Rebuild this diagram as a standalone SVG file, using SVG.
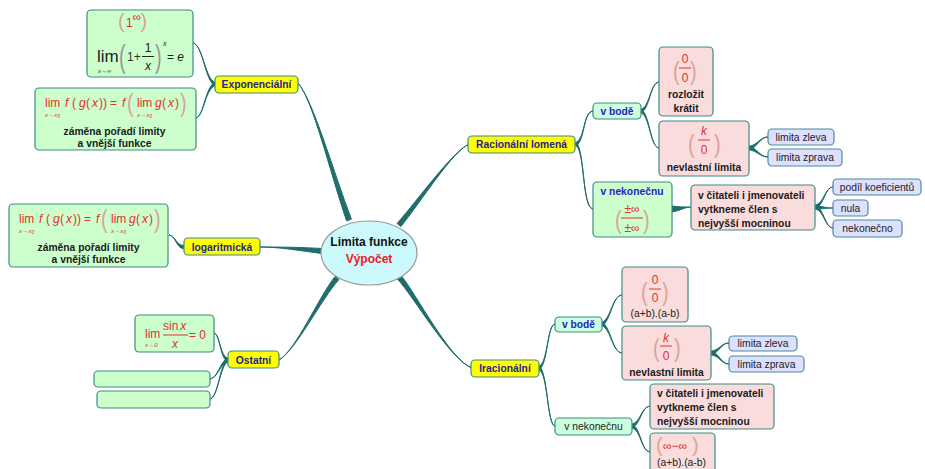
<svg xmlns="http://www.w3.org/2000/svg" width="925" height="469" viewBox="0 0 925 469">
<style>
text{font-family:"Liberation Sans",Arial,sans-serif}
.cn{fill:#1f6e6c;stroke:#1f6e6c;stroke-width:1;stroke-linejoin:round}
.y{fill:#ffff00;stroke:#3c8c86;stroke-width:1.2}
.g{fill:#ccffcc;stroke:#3c8c86;stroke-width:1.2}
.gb{fill:#ccffdd;stroke:#3c8c86;stroke-width:1.2}
.p{fill:#fadcdc;stroke:#3c8c86;stroke-width:1.2}
.l{fill:#dde0ff;stroke:#4a8c98;stroke-width:1.2}
.t{font-size:10.3px;font-weight:bold;fill:#24248c;text-anchor:middle}
.tb{font-size:10.3px;font-weight:bold;fill:#2424c8;text-anchor:middle}
.b{font-size:10.3px;font-weight:bold;fill:#1a1a1a}
.bc{font-size:10.3px;font-weight:bold;fill:#1a1a1a;text-anchor:middle}
.n{font-size:10.3px;fill:#222;text-anchor:middle}
.ns{font-size:10.3px;fill:#222}
.r{fill:#e03030;font-size:12px}
.sub{fill:#e03030;font-size:6.2px;font-style:italic}
.i{font-style:italic}
.pp{fill:#d9a49a;font-size:20px}
.fl{stroke:#e03030;stroke-width:1}
</style>
<rect width="925" height="469" fill="#ffffff"/>

<g id="connectors">
<path class="cn" d="M351.4,219.1 C332.6,169.4 313,100 298,83 C313,100 329.4,170.6 346.6,220.9 Z"/>
<path class="cn" d="M400.9,226.6 C421.4,201.1 452,152 469,144 C452,152 418.7,198.9 397.1,223.4 Z"/>
<path class="cn" d="M322,253.5 C300,250.8 280,247 260,247 C280,247 300,247.2 322,248.5 Z"/>
<path class="cn" d="M338.9,279.6 C321.3,299.1 296,350 279,360 C296,350 318.7,296.9 335.1,276.4 Z"/>
<path class="cn" d="M397.1,278.7 C413.7,296.2 450,360 472,368 C450,360 416.3,293.9 400.9,275.3 Z"/>
<path class="cn" d="M215,82.3 C205,78.8 203,45 193,43 C203,45 205,81.2 215,85.8 Z"/>
<path class="cn" d="M215,82.3 C205,86.8 204,116 196,118 C204,116 205,89.2 215,85.8 Z"/>
<path class="cn" d="M184,245.3 C176,245.8 176,236 169,235 C176,236 176,248.2 184,248.8 Z"/>
<path class="cn" d="M228,358.3 C220,356.8 220,334 214,333 C220,334 220,359.2 228,361.8 Z"/>
<path class="cn" d="M228,358.3 C220,360.8 218,378 210,379 C218,378 220,363.2 228,361.8 Z"/>
<path class="cn" d="M228,358.3 C220,362.8 218,398 210,399 C218,398 220,365.2 228,361.8 Z"/>
<path class="cn" d="M576,142.3 C585,138.8 583,112 593,111 C583,112 585,141.2 576,145.8 Z"/>
<path class="cn" d="M576,142.3 C585,148.8 582,208 593,209 C582,208 585,151.2 576,145.8 Z"/>
<path class="cn" d="M641,109.3 C650,106.8 650,83 659,82 C650,83 650,109.2 641,112.8 Z"/>
<path class="cn" d="M641,109.3 C650,113.8 650,147 659,148 C650,147 650,116.2 641,112.8 Z"/>
<path class="cn" d="M672,206 C680,207 684,207 691,207 C684,207 680,211 672,212 Z"/>
<path class="cn" d="M749,146.3 C758,144.8 760,137 768,137 C760,137 758,147.2 749,149.8 Z"/>
<path class="cn" d="M749,146.3 C758,148.8 760,157 768,157 C760,157 758,151.2 749,149.8 Z"/>
<path class="cn" d="M815,205.3 C824,203.8 825,187 833,187 C825,187 824,206.2 815,208.8 Z"/>
<path class="cn" d="M815,205.3 C824,206.8 826,208 833,208 C826,208 824,209.2 815,208.8 Z"/>
<path class="cn" d="M815,205.3 C824,207.8 825,228 833,228 C825,228 824,210.2 815,208.8 Z"/>
<path class="cn" d="M539,366.3 C548,362.8 547,325 555,324 C547,325 548,365.2 539,369.8 Z"/>
<path class="cn" d="M539,366.3 C548,370.8 547,425 555,426 C547,425 548,373.2 539,369.8 Z"/>
<path class="cn" d="M602,322.3 C611,318.8 612,296 622,295 C612,296 611,321.2 602,325.8 Z"/>
<path class="cn" d="M602,322.3 C611,326.8 612,352 622,353 C612,352 611,329.2 602,325.8 Z"/>
<path class="cn" d="M711,351.3 C720,349.8 721,343 729,343 C721,343 720,352.2 711,354.8 Z"/>
<path class="cn" d="M711,351.3 C720,353.8 721,364 729,364 C721,364 720,356.2 711,354.8 Z"/>
<path class="cn" d="M632,424.3 C641,421.8 641,407 650,406 C641,407 641,424.2 632,427.8 Z"/>
<path class="cn" d="M632,424.3 C641,427.8 641,451 650,452 C641,451 641,430.2 632,427.8 Z"/>
</g>

<g id="center">
<ellipse cx="369" cy="253" rx="48" ry="32" fill="#ccf9fc" stroke="#9a9a9a" stroke-width="1.2"/>
<text x="369" y="246" font-size="12" font-weight="bold" fill="#111" text-anchor="middle">Limita funkce</text>
<text x="369" y="263" font-size="12" font-weight="bold" fill="#e8202a" text-anchor="middle">Výpočet</text>
</g>

<g id="exponencialni">
<rect class="y" x="215" y="76" width="83" height="17" rx="4"/>
<text class="t" x="256.5" y="88">Exponenciální</text>
</g>

<g id="exp-formula1">
<rect class="g" x="87" y="10" width="106" height="67" rx="4"/>
<text class="pp" x="118" y="28" font-size="19">(</text>
<text class="r" x="126" y="27">1</text>
<text class="r" x="132.5" y="21" font-size="7.5">∞</text>
<text class="pp" x="140.5" y="28" font-size="19">)</text>
<text x="97" y="62" font-size="17" fill="#222">lim</text>
<text x="98" y="73" font-size="6" fill="#222" class="i">x→∞</text>
<text class="pp" transform="translate(119,67) scale(1,1.55)" style="fill:#9a9a9a">(</text>
<text x="127" y="61" font-size="12" fill="#333">1+</text>
<text x="148" y="52" font-size="12" fill="#222" text-anchor="middle">1</text>
<line x1="142" y1="56.5" x2="154" y2="56.5" stroke="#222" stroke-width="1"/>
<text x="148" y="70" font-size="12" fill="#222" text-anchor="middle" class="i">x</text>
<text class="pp" transform="translate(155,67) scale(1,1.55)" style="fill:#9a9a9a">)</text>
<text x="163" y="46" font-size="7" fill="#222" class="i">x</text>
<text x="167" y="61" font-size="12" fill="#222">= <tspan class="i">e</tspan></text>
</g>

<g id="exp-formula2">
<rect class="g" x="35" y="88" width="161" height="62" rx="4"/>
<g transform="translate(26,-116)">
<text class="r" x="19" y="223">lim</text>
<text class="sub" x="19" y="233">x→x<tspan font-size="4.5" dy="1">0</tspan></text>
<text class="r" y="223" font-size="13"><tspan class="i" x="39">f</tspan><tspan x="46">(</tspan><tspan class="i" x="53">g</tspan><tspan x="60">(</tspan><tspan class="i" x="66">x</tspan><tspan x="73">)</tspan><tspan x="77">)</tspan><tspan x="84">=</tspan><tspan class="i" x="96">f</tspan></text>
<text class="pp" transform="translate(101,228) scale(1,1.25)">(</text>
<text class="r" x="111" y="223">lim</text>
<text class="sub" x="111" y="233">x→x<tspan font-size="4.5" dy="1">0</tspan></text>
<text class="r" y="223" font-size="13"><tspan class="i" x="129">g</tspan><tspan x="136">(</tspan><tspan class="i" x="142">x</tspan><tspan x="149">)</tspan></text>
<text class="pp" transform="translate(154,228) scale(1,1.25)">)</text>
<text class="bc" x="88.5" y="251">záměna pořadí limity</text>
<text class="bc" x="88.5" y="263">a vnější funkce</text>
</g>
</g>

<g id="logaritmicka">
<rect class="y" x="184" y="238" width="76" height="17" rx="4"/>
<text class="t" x="222" y="251">logaritmická</text>
</g>

<g id="log-formula">
<rect class="g" x="9" y="204" width="159" height="63" rx="4"/>
<text class="r" x="19" y="223">lim</text>
<text class="sub" x="19" y="233">x→x<tspan font-size="4.5" dy="1">0</tspan></text>
<text class="r" y="223" font-size="13"><tspan class="i" x="39">f</tspan><tspan x="46">(</tspan><tspan class="i" x="53">g</tspan><tspan x="60">(</tspan><tspan class="i" x="66">x</tspan><tspan x="73">)</tspan><tspan x="77">)</tspan><tspan x="84">=</tspan><tspan class="i" x="96">f</tspan></text>
<text class="pp" transform="translate(101,228) scale(1,1.25)">(</text>
<text class="r" x="111" y="223">lim</text>
<text class="sub" x="111" y="233">x→x<tspan font-size="4.5" dy="1">0</tspan></text>
<text class="r" y="223" font-size="13"><tspan class="i" x="129">g</tspan><tspan x="136">(</tspan><tspan class="i" x="142">x</tspan><tspan x="149">)</tspan></text>
<text class="pp" transform="translate(154,228) scale(1,1.25)">)</text>
<text class="bc" x="88.5" y="251">záměna pořadí limity</text>
<text class="bc" x="88.5" y="263">a vnější funkce</text>
</g>

<g id="ostatni">
<rect class="y" x="228" y="351" width="51" height="17" rx="4"/>
<text class="t" x="253.5" y="364">Ostatní</text>
</g>

<g id="ost-formula">
<rect class="g" x="135" y="315" width="79" height="37" rx="4"/>
<text class="r" x="145" y="338">lim</text>
<text class="sub" x="145" y="347">x→0</text>
<text class="r" x="163" y="330">sin<tspan class="i" dx="2">x</tspan></text>
<line class="fl" x1="163" y1="335" x2="188" y2="335"/>
<text class="r i" x="175" y="348" text-anchor="middle">x</text>
<text class="r" x="189" y="339">= 0</text>
</g>
<g id="ost-empty1"><rect class="g" x="94" y="371" width="116" height="16" rx="4"/></g>
<g id="ost-empty2"><rect class="g" x="97" y="391" width="113" height="17" rx="4"/></g>

<g id="racionalni">
<rect class="y" x="468" y="136" width="107" height="17" rx="4"/>
<text class="t" x="521.5" y="148">Racionální lomená</text>
</g>

<g id="rac-vbode">
<rect class="gb" x="593" y="103" width="48" height="16" rx="4"/>
<text class="tb" x="617" y="115">v bodě</text>
</g>

<g id="rac-00">
<rect class="p" x="659" y="47" width="54" height="69" rx="4"/>
<text class="pp" transform="translate(673,80) scale(1,1.3)">(</text>
<text class="r" x="685" y="63" text-anchor="middle">0</text>
<line class="fl" x1="679" y1="68" x2="691" y2="68"/>
<text class="r" x="685" y="82" text-anchor="middle">0</text>
<text class="pp" transform="translate(690,80) scale(1,1.3)">)</text>
<text class="bc" x="686" y="98">rozložit</text>
<text class="bc" x="686" y="112">krátit</text>
</g>

<g id="rac-k0">
<rect class="p" x="659" y="121" width="90" height="55" rx="4"/>
<text class="pp" transform="translate(688,153) scale(1,1.3)">(</text>
<text class="r i" x="704" y="135" text-anchor="middle">k</text>
<line class="fl" x1="698" y1="140" x2="710" y2="140"/>
<text class="r" x="704" y="154" text-anchor="middle">0</text>
<text class="pp" transform="translate(714,153) scale(1,1.3)">)</text>
<text class="bc" x="704" y="171">nevlastní limita</text>
</g>

<g id="rac-zleva">
<rect class="l" x="768" y="129" width="66" height="16" rx="4"/>
<text class="n" x="801" y="141">limita zleva</text>
</g>
<g id="rac-zprava">
<rect class="l" x="768" y="149" width="74" height="17" rx="4"/>
<text class="n" x="805" y="161">limita zprava</text>
</g>

<g id="rac-vnek">
<rect class="g" x="593" y="182" width="79" height="55" rx="4"/>
<text class="tb" x="632" y="195">v nekonečnu</text>
<text class="pp" transform="translate(615,229) scale(1,1.3)">(</text>
<text class="r" x="632" y="213" font-size="11" text-anchor="middle">±∞</text>
<line class="fl" x1="621" y1="218" x2="643" y2="218"/>
<text class="r" x="632" y="232" font-size="11" text-anchor="middle">±∞</text>
<text class="pp" transform="translate(643,229) scale(1,1.3)">)</text>
</g>

<g id="rac-vcitateli">
<rect class="p" x="691" y="185" width="124" height="45" rx="4"/>
<text class="b" x="698" y="199">v čitateli i jmenovateli</text>
<text class="b" x="698" y="213">vytkneme člen s</text>
<text class="b" x="698" y="227">nejvyšší mocninou</text>
</g>

<g id="rac-podil">
<rect class="l" x="833" y="179" width="88" height="16" rx="4"/>
<text class="n" x="877" y="191">podíl koeficientů</text>
</g>
<g id="rac-nula">
<rect class="l" x="833" y="200" width="35" height="16" rx="4"/>
<text class="n" x="850.5" y="212">nula</text>
</g>
<g id="rac-nekonecno">
<rect class="l" x="833" y="220" width="69" height="17" rx="4"/>
<text class="n" x="867.5" y="232">nekonečno</text>
</g>

<g id="iracionalni">
<rect class="y" x="471" y="360" width="68" height="17" rx="4"/>
<text class="t" x="505" y="372">Iracionální</text>
</g>

<g id="ira-vbode">
<rect class="gb" x="555" y="317" width="47" height="15" rx="4"/>
<text class="tb" x="578.5" y="328">v bodě</text>
</g>

<g id="ira-00">
<rect class="p" x="622" y="267" width="66" height="55" rx="4"/>
<text class="pp" transform="translate(641,301) scale(1,1.3)">(</text>
<text class="r" x="655" y="284" text-anchor="middle">0</text>
<line class="fl" x1="649" y1="289" x2="661" y2="289"/>
<text class="r" x="655" y="302" text-anchor="middle">0</text>
<text class="pp" transform="translate(662,301) scale(1,1.3)">)</text>
<text class="n" x="655" y="317">(a+b).(a-b)</text>
</g>

<g id="ira-k0">
<rect class="p" x="622" y="326" width="89" height="54" rx="4"/>
<text class="pp" transform="translate(653,357) scale(1,1.3)">(</text>
<text class="r i" x="666" y="342" text-anchor="middle">k</text>
<line class="fl" x1="660" y1="346" x2="672" y2="346"/>
<text class="r" x="666" y="360" text-anchor="middle">0</text>
<text class="pp" transform="translate(674,357) scale(1,1.3)">)</text>
<text class="bc" x="666.5" y="376">nevlastní limita</text>
</g>

<g id="ira-zleva">
<rect class="l" x="729" y="336" width="68" height="15" rx="4"/>
<text class="n" x="763" y="347">limita zleva</text>
</g>
<g id="ira-zprava">
<rect class="l" x="729" y="356" width="75" height="16" rx="4"/>
<text class="n" x="766.5" y="368">limita zprava</text>
</g>

<g id="ira-vnek">
<rect class="gb" x="555" y="418" width="77" height="17" rx="4"/>
<text class="n" x="593.5" y="430">v nekonečnu</text>
</g>

<g id="ira-vcitateli">
<rect class="p" x="650" y="384" width="124" height="45" rx="4"/>
<text class="b" x="657" y="397">v čitateli i jmenovateli</text>
<text class="b" x="657" y="411">vytkneme člen s</text>
<text class="b" x="657" y="425">nejvyšší mocninou</text>
</g>

<g id="ira-infinf">
<rect class="p" x="650" y="433" width="65" height="42" rx="4"/>
<text class="pp" x="656" y="452" font-size="15">(</text>
<text class="r" x="663" y="450" font-size="13">∞−∞</text>
<text class="pp" x="692" y="452" font-size="15">)</text>
<text class="ns" x="657" y="466">(a+b).(a-b)</text>
</g>
</svg>
